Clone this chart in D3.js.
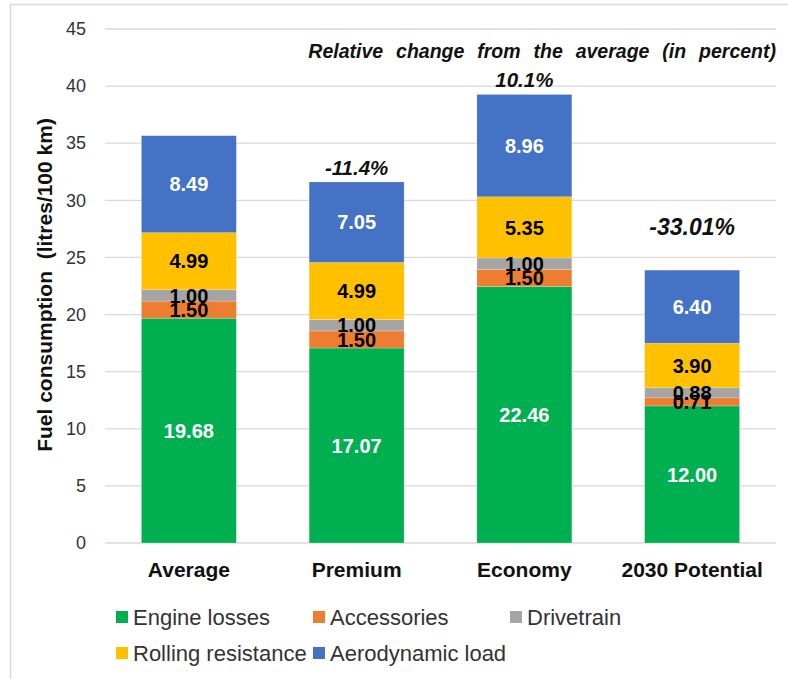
<!DOCTYPE html>
<html>
<head>
<script src="https://cdn.jsdelivr.net/npm/d3@7"></script>
<style>
  body { margin: 0; background: #fff; }
  svg { font-family: "Liberation Sans", Arial, sans-serif; }
  .tick text { font-size: 18px; fill: #333; }
  .seg-label { font-size: 20px; font-weight: bold; text-anchor: middle; }
  .cat-label { font-size: 21px; font-weight: bold; text-anchor: middle; fill: #111; }
  .pct { font-weight: bold; font-style: italic; text-anchor: middle; fill: #111; }
  .legend text { font-size: 22px; fill: #333; }
</style>
</head>
<body>
<div id="chart"></div>
<script>
  var categories = ["Average", "Premium", "Economy", "2030 Potential"];
  var seriesNames = ["Engine losses", "Accessories", "Drivetrain", "Rolling resistance", "Aerodynamic load"];
  var engineLosses = [19.68, 17.07, 22.46, 12.00];
  var accessories = [1.50, 1.50, 1.50, 0.71];
  var drivetrain = [1.00, 1.00, 1.00, 0.88];
  var rollingResistance = [4.99, 4.99, 5.35, 3.90];
  var aerodynamicLoad = [8.49, 7.05, 8.96, 6.40];
  var relChange = [null, "-11.4%", "10.1%", "-33.01%"];
  var yTicks = [0, 5, 10, 15, 20, 25, 30, 35, 40, 45];

  var colors = ["#00b050", "#ed7d31", "#a5a5a5", "#ffc000", "#4472c4"];
  var labelColors = ["#fff", "#000", "#000", "#000", "#fff"];

  var width = 788, height = 679;
  var svg = d3.select("#chart").append("svg")
      .attr("width", width)
      .attr("height", height);

  // outer frame
  svg.append("rect")
      .attr("x", 10.5).attr("y", 4.5)
      .attr("width", 790).attr("height", 690)
      .attr("fill", "none")
      .attr("stroke", "#d9d9d9")
      .attr("stroke-width", 1.5);

  var plotLeft = 105, plotRight = 776, plotTop = 29, plotBottom = 543;

  var x = d3.scaleBand()
      .domain(categories)
      .range([plotLeft, plotRight])
      .paddingInner(0.434)
      .paddingOuter(0.217);

  var y = d3.scaleLinear()
      .domain([0, 45])
      .range([plotBottom, plotTop]);

  // gridlines
  svg.append("g")
    .selectAll("line")
    .data(yTicks)
    .enter().append("line")
      .attr("x1", plotLeft).attr("x2", plotRight)
      .attr("y1", function(d) { return y(d); })
      .attr("y2", function(d) { return y(d); })
      .attr("stroke", "#d9d9d9")
      .attr("stroke-width", 1.3);

  var yAxis = svg.append("g")
      .attr("transform", "translate(" + plotLeft + ",0)")
      .call(d3.axisLeft(y).tickValues(yTicks).tickSize(0).tickPadding(19));
  yAxis.select(".domain").remove();

  svg.append("text")
      .attr("transform", "translate(52,285) rotate(-90)")
      .attr("text-anchor", "middle")
      .attr("font-size", "21px")
      .attr("font-weight", "bold")
      .attr("fill", "#111")
      .style("white-space", "pre")
      .text("Fuel consumption  (litres/100 km)");

  var table = categories.map(function(c, i) {
    return {
      cat: c,
      "Engine losses": engineLosses[i],
      "Accessories": accessories[i],
      "Drivetrain": drivetrain[i],
      "Rolling resistance": rollingResistance[i],
      "Aerodynamic load": aerodynamicLoad[i]
    };
  });

  var stacked = d3.stack().keys(seriesNames)(table);

  var layers = svg.append("g").selectAll("g")
    .data(stacked)
    .enter().append("g")
      .attr("fill", function(d, i) { return colors[i]; });

  layers.selectAll("rect")
    .data(function(d) { return d; })
    .enter().append("rect")
      .attr("x", function(d) { return x(d.data.cat); })
      .attr("width", x.bandwidth())
      .attr("y", function(d) { return y(d[1]); })
      .attr("height", function(d) { return y(d[0]) - y(d[1]); })
      .attr("stroke", "#fff")
      .attr("stroke-opacity", 0.35)
      .attr("stroke-width", 0.6);

  stacked.forEach(function(layer, si) {
    svg.append("g").selectAll("text")
      .data(layer)
      .enter().append("text")
        .attr("class", "seg-label")
        .attr("fill", labelColors[si])
        .attr("x", function(d) { return x(d.data.cat) + x.bandwidth() / 2; })
        .attr("y", function(d) { return y((d[0] + d[1]) / 2); })
        .attr("dy", "0.36em")
        .text(function(d) { return (d[1] - d[0]).toFixed(2); });
  });

  // category labels
  svg.append("g").selectAll("text")
    .data(categories)
    .enter().append("text")
      .attr("class", "cat-label")
      .attr("x", function(d) { return x(d) + x.bandwidth() / 2; })
      .attr("y", 577)
      .text(function(d) { return d; });

  // relative change labels
  var totals = stacked[stacked.length - 1];
  svg.append("g").selectAll("text")
    .data(categories.map(function(c, i) { return { cat: c, label: relChange[i], top: totals[i][1] }; })
      .filter(function(d) { return d.label; }))
    .enter().append("text")
      .attr("class", "pct")
      .attr("x", function(d) { return x(d.cat) + x.bandwidth() / 2; })
      .attr("y", function(d) { return d.label === "-33.01%" ? y(d.top) - 35 : y(d.top) - 7; })
      .attr("font-size", function(d) { return d.label === "-33.01%" ? "23px" : "20.5px"; })
      .text(function(d) { return d.label; });

  svg.append("text")
      .attr("x", plotRight)
      .attr("y", 58)
      .attr("text-anchor", "end")
      .attr("font-size", "19.5px")
      .attr("font-weight", "bold")
      .attr("font-style", "italic")
      .attr("word-spacing", "7.5px")
      .attr("fill", "#111")
      .text("Relative change from the average (in percent)");

  // legend
  var legendPos = [[116, 617], [313, 617], [510, 617], [116, 653], [313, 653]];
  var legend = svg.append("g").attr("class", "legend")
    .selectAll("g")
    .data(seriesNames)
    .enter().append("g")
      .attr("transform", function(d, i) { return "translate(" + legendPos[i][0] + "," + legendPos[i][1] + ")"; });

  legend.append("rect")
      .attr("x", 0).attr("y", -6)
      .attr("width", 12).attr("height", 12)
      .attr("fill", function(d, i) { return colors[i]; });

  legend.append("text")
      .attr("x", 17)
      .attr("dy", "0.36em")
      .text(function(d) { return d; });
</script>
</body>
</html>
